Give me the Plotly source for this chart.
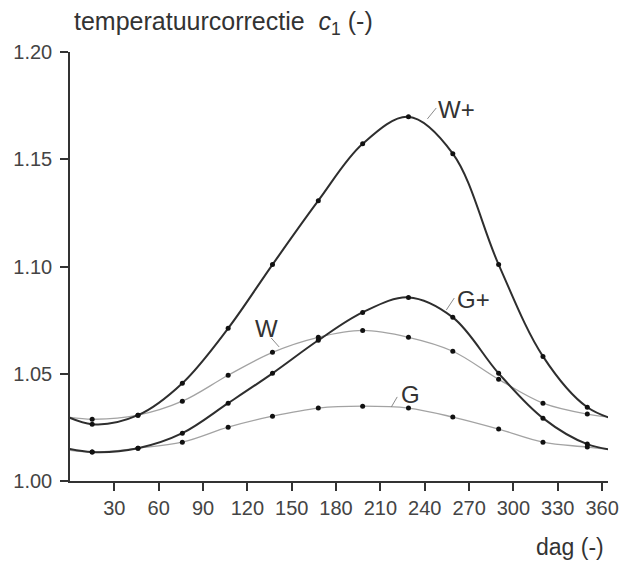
import plotly.graph_objects as go

# Day of year for each monthly value (mid-month)
days = [15, 46, 76, 107, 137, 168, 198, 229, 259, 290, 320, 350]

# Temperature correction c1 per scenario
w_plus = [1.0265, 1.0307, 1.0456, 1.0712, 1.1009, 1.1307, 1.1572, 1.1698, 1.1526, 1.1009, 1.0581, 1.0344]
g_plus = [1.0135, 1.0153, 1.0223, 1.0363, 1.0502, 1.0656, 1.0786, 1.0856, 1.0763, 1.0502, 1.0293, 1.0172]
w_base = [1.0288, 1.0307, 1.0372, 1.0493, 1.0600, 1.0670, 1.0702, 1.0670, 1.0605, 1.0474, 1.0363, 1.0312]
g_base = [1.0135, 1.0153, 1.0181, 1.0251, 1.0302, 1.0340, 1.0349, 1.0340, 1.0298, 1.0242, 1.0181, 1.0158]

x_ticks = [30, 60, 90, 120, 150, 180, 210, 240, 270, 300, 330, 360]
y_ticks = [1.00, 1.05, 1.10, 1.15, 1.20]

YEAR = 365
X_END = 364
FONT = "Liberation Sans, Arial, sans-serif"
DARK = "#2e2e2e"
LIGHT = "#a3a3a3"


def wrapped(vals):
    """Repeat the neighbouring year's end values so the spline runs to both axis edges."""
    xs = [days[-1] - YEAR] + days + [days[0] + YEAR]
    ys = [vals[-1]] + vals + [vals[0]]
    return xs, ys


fig = go.Figure()

series = [
    (w_base, LIGHT, 1.3),
    (g_base, LIGHT, 1.3),
    (g_plus, DARK, 2.0),
    (w_plus, DARK, 2.0),
]
for vals, color, width in series:
    xs, ys = wrapped(vals)
    fig.add_trace(go.Scatter(
        x=xs, y=ys, mode="lines",
        line=dict(color=color, width=width, shape="spline", smoothing=1.0),
        hoverinfo="skip", showlegend=False,
    ))
for vals in (w_base, g_base, g_plus, w_plus):
    fig.add_trace(go.Scatter(
        x=days, y=vals, mode="markers",
        marker=dict(color="#111111", size=5),
        showlegend=False,
    ))

# Curve labels with short leader lines
labels = [
    ("W+", 261.5, 1.1730, (241.8, 1.1688, 247.8, 1.1739)),
    ("G+", 273.0, 1.0844, (254.6, 1.0797, 260.0, 1.0853)),
    ("W", 133.0, 1.0713, (141.5, 1.0625, 136.1, 1.0667)),
    ("G", 230.2, 1.0401, (217.4, 1.0345, 221.4, 1.0392)),
]
for text, tx, ty, (x0, y0, x1, y1) in labels:
    fig.add_annotation(x=tx, y=ty, xref="x", yref="y", text=text, showarrow=False,
                       font=dict(family=FONT, size=24, color="#333333"))
    fig.add_shape(type="line", xref="x", yref="y", x0=x0, y0=y0, x1=x1, y1=y1,
                  line=dict(color="#8a8a8a", width=1))

# Axis titles
fig.add_annotation(xref="paper", yref="paper", x=0.0, y=1.0, xanchor="left", yanchor="bottom",
                   xshift=2, yshift=11, showarrow=False,
                   text="temperatuurcorrectie&nbsp; <i>c</i><sub>1</sub> (-)",
                   font=dict(family=FONT, size=25, color="#333333"))
fig.add_annotation(xref="paper", yref="paper", x=1.0, y=0.0, xanchor="right", yanchor="middle",
                   xshift=-2, yshift=-66, showarrow=False, text="dag (-)",
                   font=dict(family=FONT, size=23, color="#333333"))

fig.update_layout(
    width=620, height=562,
    margin=dict(l=70, r=12, t=52, b=81),
    paper_bgcolor="white", plot_bgcolor="white",
    font=dict(family=FONT, color="#444444"),
    xaxis=dict(
        range=[0, X_END], tickvals=x_ticks, ticks="outside", ticklen=8, tickwidth=1.5,
        tickcolor="#333333", showline=True, linecolor="#333333", linewidth=1.5,
        showgrid=False, zeroline=False, tickfont=dict(size=20, color="#444444"),
        automargin=False,
    ),
    yaxis=dict(
        range=[1.0, 1.2], tickvals=y_ticks, tickformat=".2f", ticks="outside", ticklen=8,
        tickwidth=1.5, tickcolor="#333333", showline=True, linecolor="#333333", linewidth=1.5,
        showgrid=False, zeroline=False, tickfont=dict(size=20, color="#444444"),
        ticklabelstandoff=4, automargin=False,
    ),
)

fig.write_html("out.html")
